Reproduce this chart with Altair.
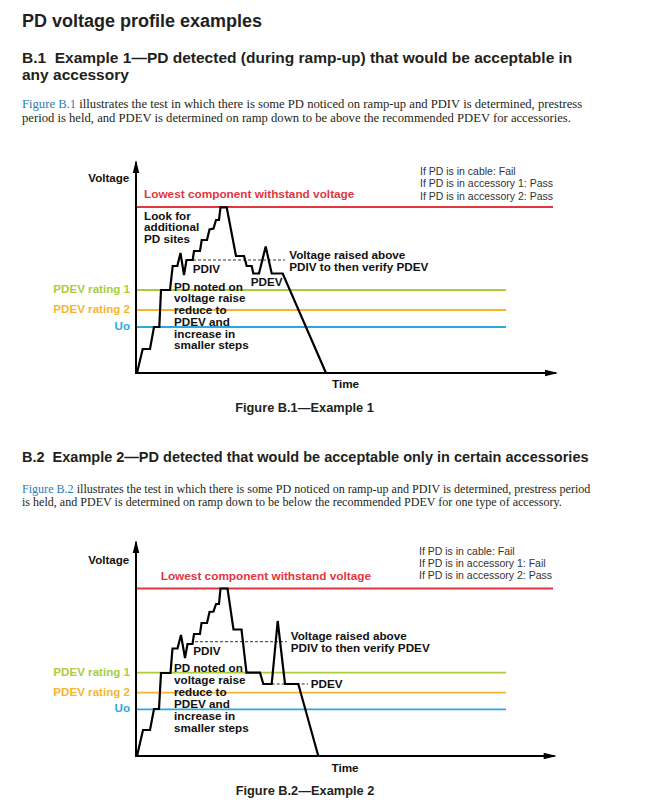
import altair as alt
import pandas as pd

# ---------------- text content ----------------
title_text = "PD voltage profile examples"
head1_lines = ["B.1\u00a0 Example 1\u2014PD detected (during ramp-up) that would be acceptable in",
               "any accessory"]
para1_link = "Figure B.1"
para1_lines = ["illustrates the test in which there is some PD noticed on ramp-up and PDIV is determined, prestress",
               "period is held, and PDEV is determined on ramp down to be above the recommended PDEV for accessories."]
head2_text = "B.2\u00a0 Example 2\u2014PD detected that would be acceptable only in certain accessories"
para2_link = "Figure B.2"
para2_lines = ["illustrates the test in which there is some PD noticed on ramp-up and PDIV is determined, prestress period",
               "is held, and PDEV is determined on ramp down to be below the recommended PDEV for one type of accessory."]

# ---------------- diagram data ----------------
level_names = ["Lowest component withstand voltage", "PDEV rating 1", "PDEV rating 2", "Uo"]
level_colors = ["#e2363f", "#a9cd3c", "#f6b530", "#2aa8e0"]
level_ends = [417, 370, 370, 370]
fig1_levels = [166, 83, 63, 46]
fig2_levels = [167.5, 83.3, 63.3, 46.7]

fig1_time = [1, 6.7, 14, 18, 23.3, 25, 34, 36.7, 41.3, 44.5, 48, 50.5, 56.7, 58, 64, 65.7, 71,
             73.5, 77.5, 80, 83, 84.5, 90.7, 100, 108, 110.7, 115.7, 117.3, 123, 129.7, 135.7,
             146.7, 190]
fig1_volt = [0, 24, 24, 46, 46, 83, 83, 107, 107, 120, 98, 113, 113, 122, 122, 133, 133,
             143.5, 144.5, 153, 153, 165.7, 165.7, 117, 117, 107, 107, 99.5, 99.5, 126.5, 99.5,
             99.5, 0]

fig2_time = [1, 7, 14, 18, 23, 25, 34.5, 36.5, 41.5, 45, 49, 51.5, 56.5, 58, 64, 65.5, 71,
             73.5, 77.5, 80, 83, 84.5, 91.5, 97.5, 105.5, 110.5, 124, 127.3, 135.7, 141.7, 149,
             162.3, 182.3]
fig2_volt = [0, 26, 26, 47, 47, 83, 83, 107.5, 107.5, 121, 98, 112, 112, 122, 122, 133, 133,
             144, 144.5, 152, 152, 167.5, 167.5, 126.5, 126.5, 83.3, 83.3, 72, 72, 135, 72,
             72, 0]

fig1_verdicts = ["If PD is in cable: Fail", "If PD is in accessory 1: Pass", "If PD is in accessory 2: Pass"]
fig2_verdicts = ["If PD is in cable: Fail", "If PD is in accessory 1: Fail", "If PD is in accessory 2: Pass"]
look_lines = ["Look for", "additional", "PD sites"]
noted_lines = ["PD noted on", "voltage raise", "reduce to", "PDEV and", "increase in", "smaller steps"]
raised_lines = ["Voltage raised above", "PDIV to then verify PDEV"]

# ---------------- styles ----------------
INK = "#231f20"
LINK = "#2a7bbd"
SANS = "Liberation Sans"
SERIF = "Liberation Serif"
W = 633


def page_text(s, x, y, size, color=INK, font=SANS, weight="bold"):
    return alt.Chart(pd.DataFrame({"label": [s]})).mark_text(
        align="left", baseline="middle", font=font, fontSize=size,
        fontWeight=weight, color=color
    ).encode(x=alt.value(x), y=alt.value(y), text="label:N")


def figure(time, volt, levels, verdicts, sp):
    xs = alt.Scale(domain=[-128, 505], nice=False, zero=False)
    ys = alt.Scale(domain=sp["ydom"], nice=False, zero=False)

    def X(t):
        return alt.XDatum(t, type="quantitative", scale=xs, axis=None)

    def Y(v):
        return alt.YDatum(v, type="quantitative", scale=ys, axis=None)

    one = pd.DataFrame({"label": [""]})
    layers = []

    def lab(s, t, v, size=11.7, color="#111111", weight="bold", align="left"):
        layers.append(alt.Chart(pd.DataFrame({"label": [s]})).mark_text(
            align=align, baseline="middle", font=SANS, fontSize=size,
            fontWeight=weight, color=color
        ).encode(x=X(t), y=Y(v), text="label:N"))

    # level lines
    for name, col, val, end in zip(level_names, level_colors, levels, level_ends):
        layers.append(alt.Chart(one).mark_rule(color=col, strokeWidth=1.8).encode(
            x=X(0), x2=alt.X2Datum(end), y=Y(val)))
    # axes
    layers.append(alt.Chart(one).mark_rule(color="#000", strokeWidth=2, strokeCap="square").encode(
        x=X(0), y=Y(0), y2=alt.Y2Datum(sp["ytip"] - 3)))
    layers.append(alt.Chart(one).mark_rule(color="#000", strokeWidth=2, strokeCap="square").encode(
        x=X(0), x2=alt.X2Datum(sp["xtip"] - 3), y=Y(0)))
    layers.append(alt.Chart(one).mark_point(
        shape="M0,0L0.5,2L-0.5,2Z", size=169, filled=True, color="#000", opacity=1, strokeWidth=0
    ).encode(x=X(0), y=Y(sp["ytip"])))
    layers.append(alt.Chart(one).mark_point(
        shape="M0,0L-2,-0.5L-2,0.5Z", size=169, filled=True, color="#000", opacity=1, strokeWidth=0
    ).encode(x=X(sp["xtip"]), y=Y(0)))

    # dashed guide lines
    for (t0, t1, v) in sp["dashes"]:
        layers.append(alt.Chart(one).mark_rule(color="#333", strokeWidth=1, strokeDash=[3, 2]).encode(
            x=X(t0), x2=alt.X2Datum(t1), y=Y(v)))

    # profile
    prof = pd.DataFrame({"t": time, "v": volt, "i": list(range(len(time)))})
    layers.append(alt.Chart(prof).mark_line(color="#000", strokeWidth=2.2).encode(
        x=alt.X("t:Q", scale=xs, axis=None),
        y=alt.Y("v:Q", scale=ys, axis=None),
        order="i:Q"))

    # labels
    lab(level_names[0], sp["red_t"], sp["red_v"], size=11.8, color=level_colors[0])
    for name, col, val in zip(level_names[1:], level_colors[1:], levels[1:]):
        lab(name, -6, val, size=11.6, color=col, align="right")
    lab("Voltage", -6.7, sp["volt_v"], size=11.6, align="right")
    lab("Time", sp["time"][0], sp["time"][1], size=11.7, align="center")
    lab(sp["caption"], sp["cap"][0], sp["cap"][1], size=12.8, color=INK, align="center")
    for s, v in zip(verdicts, sp["verdict_v"]):
        lab(s, sp["verdict_t"], v, size=10.5, color="#333333", weight="normal")
    for s, v in zip(noted_lines, sp["noted_v"]):
        lab(s, 38, v)
    for s, v in zip(raised_lines, sp["raised_v"]):
        lab(s, sp["raised_t"], v)
    for s, t, v in sp["extra"]:
        lab(s, t, v)

    return alt.layer(*layers).properties(width=W, height=sp["ydom"][1] - sp["ydom"][0])


spec1 = dict(
    ydom=[-52, 233], ytip=213, xtip=422, volt_v=194, red_t=8, red_v=178.7,
    verdict_t=284, verdict_v=[201.3, 188.7, 176.3],
    dashes=[(57, 149, 113)],
    raised_t=153.3, raised_v=[117.8, 106.1],
    noted_v=[86.3, 74.6, 62.9, 51.2, 39.5, 27.8],
    time=(209.5, -11.3), cap=(168.5, -35.3), caption="Figure B.1\u2014Example 1",
    extra=[("PDIV", 56.7, 104), ("PDEV", 114.7, 91.3)]
    + [(s, 8, v) for s, v in zip(look_lines, [157.4, 145.7, 134])],
)
spec2 = dict(
    ydom=[-47, 231], ytip=216, xtip=420.7, volt_v=195.3, red_t=24.7, red_v=180,
    verdict_t=283, verdict_v=[204.3, 192, 180.3],
    dashes=[(59, 150.7, 114.3), (135.7, 172, 72)],
    raised_t=154.7, raised_v=[119.7, 108],
    noted_v=[87.7, 75.7, 63.7, 51.7, 39.7, 27.7],
    time=(209, -11.7), cap=(169, -35.3), caption="Figure B.2\u2014Example 2",
    extra=[("PDIV", 57.3, 105), ("PDEV", 174.7, 72)],
)

# ---------------- header blocks ----------------
header1 = alt.layer(
    page_text(title_text, 14, 13.7, 18),
    page_text(head1_lines[0], 14, 50.3, 15.5),
    page_text(head1_lines[1], 14, 67.2, 15.5),
    page_text(para1_link, 14, 95.8, 12.65, color=LINK, font=SERIF, weight="normal"),
    page_text(para1_lines[0], 71.3, 95.8, 12.65, font=SERIF, weight="normal"),
    page_text(para1_lines[1], 14, 110.2, 12.65, font=SERIF, weight="normal"),
).properties(width=W, height=132)

header2 = alt.layer(
    page_text(head2_text, 14, 33.3, 14.5),
    page_text(para2_link, 14, 64, 12.07, color=LINK, font=SERIF, weight="normal"),
    page_text(para2_lines[0], 68.7, 64, 12.07, font=SERIF, weight="normal"),
    page_text(para2_lines[1], 14, 77.4, 12.07, font=SERIF, weight="normal"),
).properties(width=W, height=100)

fig1 = figure(fig1_time, fig1_volt, fig1_levels, fig1_verdicts, spec1)
fig2 = figure(fig2_time, fig2_volt, fig2_levels, fig2_verdicts, spec2)

chart = alt.vconcat(header1, fig1, header2, fig2, spacing=0, bounds="flush").properties(
    padding=0, background="white"
).configure_view(stroke=None)

chart.save("out.html", embed_options={"renderer": "svg", "actions": False})
